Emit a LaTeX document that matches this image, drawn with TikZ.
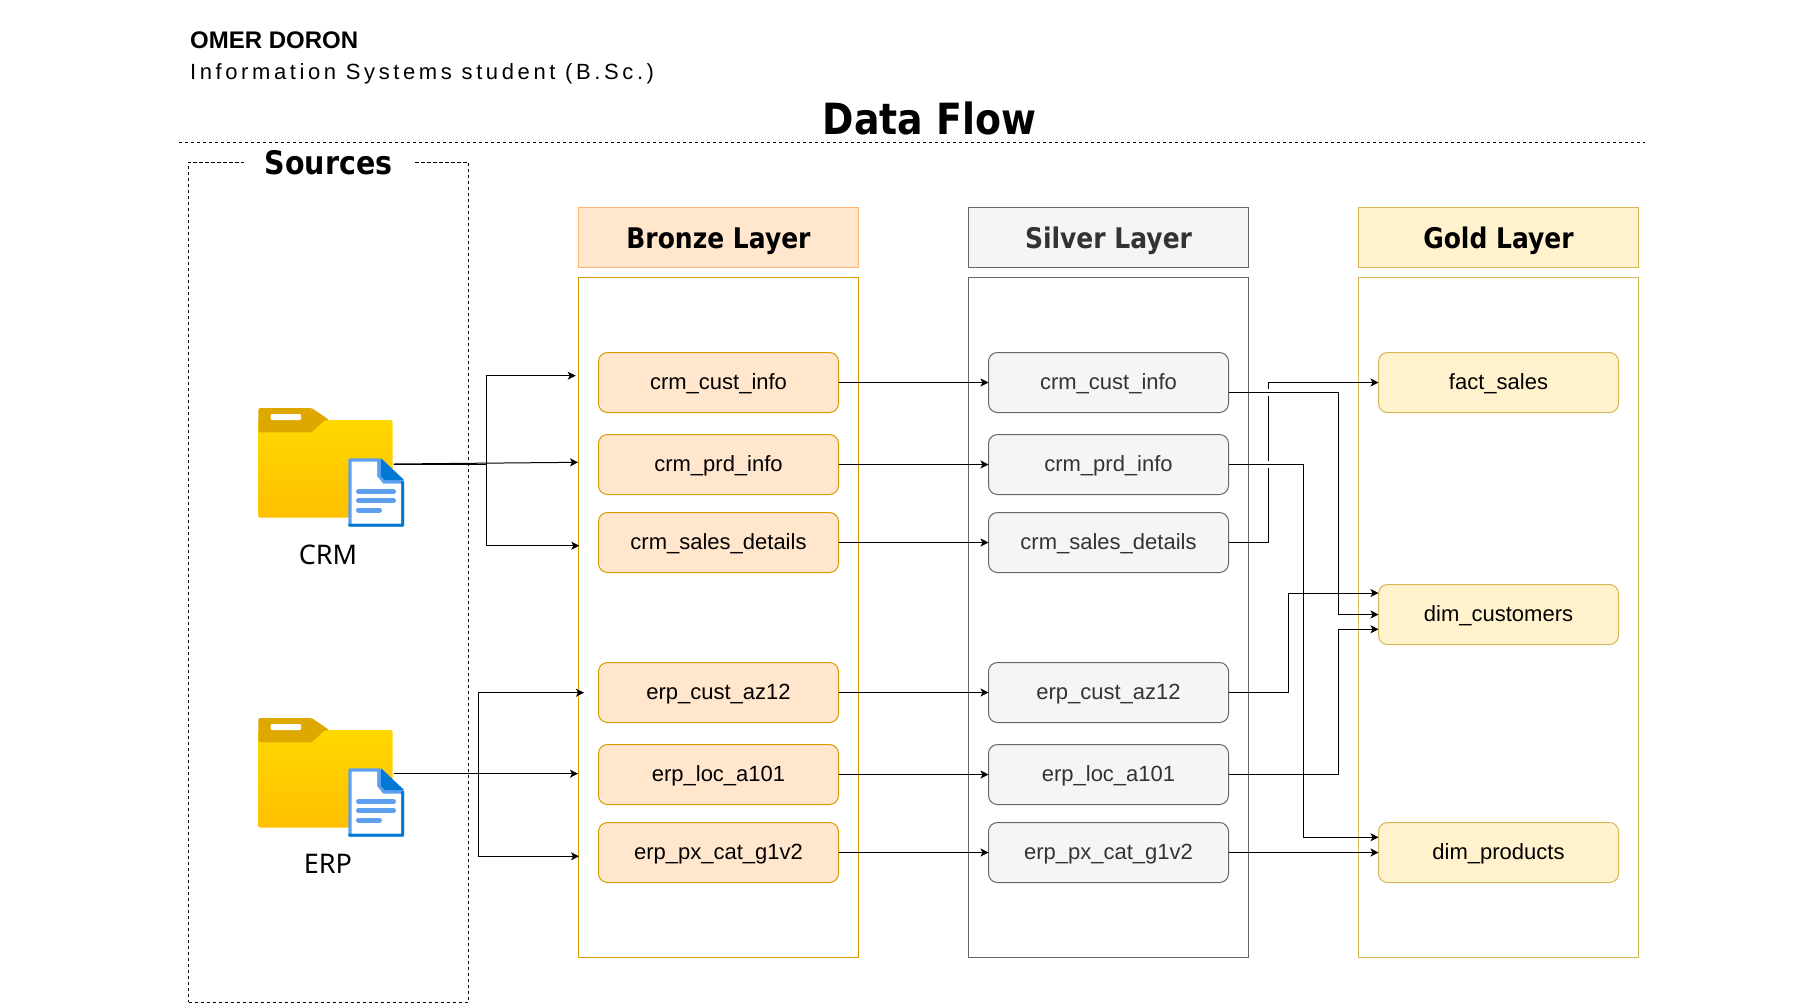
\documentclass[tikz,border=0pt]{standalone}
\usepackage{fontspec}
\setmainfont{Liberation Sans}
\newfontfamily\headfont{Noto Sans}
\newfontfamily\headbold[FakeStretch=0.88]{DejaVu Sans Bold}
\newfontfamily\spacedfont[LetterSpace=16.4]{Liberation Sans}
\usetikzlibrary{arrows.meta,calc}
\definecolor{bronzefill}{HTML}{FFE6CC}
\definecolor{bronzeline}{HTML}{D79B00}
\definecolor{bronzehead}{HTML}{FFB570}
\definecolor{silverfill}{HTML}{F5F5F5}
\definecolor{silverline}{HTML}{666666}
\definecolor{silvertext}{HTML}{333333}
\definecolor{goldfill}{HTML}{FFF2CC}
\definecolor{goldline}{HTML}{D6B656}
\definecolor{foldertab}{HTML}{DEA800}
\definecolor{foldertop}{HTML}{FFD700}
\definecolor{folderbot}{HTML}{FFC000}
\definecolor{docdark}{HTML}{0078D4}
\definecolor{doclight}{HTML}{5EA0EF}
\tikzset{
  flow/.style={draw=black,line width=0.5pt,-{Stealth[length=4pt,width=4pt,inset=1pt]}},
  dashline/.style={draw=black,line width=0.5pt,dash pattern=on 1.6pt off 1.4pt},
  body/.style={draw=#1,line width=0.5pt,minimum width=140pt,minimum height=340pt,inner sep=0pt,outer sep=0pt},
  layerhead/.style={minimum width=140pt,minimum height=30pt,inner sep=0pt,outer sep=0pt,line width=0.5pt,font=\headbold\fontsize{14.2}{16}\selectfont,text height=13.5pt,text depth=2.5pt},
  tablebox/.style={rounded corners=4.5pt,minimum width=120pt,minimum height=30pt,inner sep=0pt,outer sep=0pt,line width=0.5pt,font=\fontsize{11}{13}\selectfont,text height=9.1pt,text depth=2.3pt},
  bronzebox/.style={tablebox,fill=bronzefill,draw=bronzeline},
  silverbox/.style={tablebox,fill=silverfill,draw=silverline,text=silvertext},
  goldbox/.style={tablebox,fill=goldfill,draw=goldline},
  folderanchor/.style={minimum width=67.5pt,minimum height=55pt,inner sep=0pt,outer sep=0pt},
  srclabel/.style={font=\headfont\fontsize{13.5}{16}\selectfont,inner sep=0pt},
  folderpic/.pic={
    \shade[top color=foldertop,bottom color=folderbot,rounded corners=1pt] (258.3,420) -- (392.7,420) -- (392.7,517.7) -- (258.3,517.7) -- cycle;
    \fill[foldertab,rounded corners=0.8pt] (258.3,432.3) -- (258.3,408) -- (311.7,408) -- (329.3,420) -- (325,420) -- (311.7,432.3) -- cycle;
    \fill[white,rounded corners=0.6pt] (270.7,414) rectangle (301,420);
    \fill[doclight,rounded corners=0.8pt] (348.3,458.3) -- (381,458.3) -- (404,480) -- (404,526.7) -- (348.3,526.7) -- cycle;
    \fill[docdark,rounded corners=0.4pt] (404,481) -- (404,526.7) -- (348.3,526.7) -- (348.3,523.5) -- (401,523.5) -- (401,481) -- cycle;
    \fill[white] (351.5,461.5) -- (377,461.5) -- (377,476) -- (383,483.5) -- (401,483.5) -- (401,523.5) -- (351.5,523.5) -- cycle;
    \fill[docdark] (381,458.3) -- (404,480) -- (385,480) -- (381,476) -- cycle;
    \draw[doclight,line width=2.5pt,line cap=round] (358.5,491.7) -- (393.5,491.7) (358.5,500.7) -- (393.5,500.7) (358.5,510) -- (379.5,510);
  }
}
\begin{document}
\begin{tikzpicture}[x=0.5pt,y=-0.5pt]
\useasboundingbox (0,0) rectangle (1814,1003);
\fill[white] (0,0) rectangle (1814,1003);

% header texts
\node[anchor=west,inner sep=0pt,font=\bfseries\fontsize{12}{14}\selectfont] (author) at (189.7,40.5) {OMER DORON};
\node[anchor=west,inner sep=0pt,font=\spacedfont\fontsize{11}{13}\selectfont] (role) at (189.7,74.3) {Information Systems student (B.Sc.)};
\node[inner sep=0pt,font=\headbold\fontsize{21.5}{25}\selectfont] (title) at (929.5,118) {Data Flow};
\coordinate (ruleL) at (179,142.5);
\coordinate (ruleR) at (1645,142.5);
\draw[dashline] (ruleL) -- (ruleR);

% sources
\node[dashline,minimum width=140pt,minimum height=420pt,inner sep=0pt,outer sep=0pt] (sources) at (328.5,582) {};
\node[fill=white,minimum width=85pt,minimum height=18pt,inner sep=0pt,font=\headbold\fontsize{16.2}{18}\selectfont] (sourcesT) at (328.5,163) {Sources};

% layers
\node[layerhead,fill=bronzefill,draw=bronzehead] (bh) at (718.5,237.5) {Bronze Layer};
\node[layerhead,fill=silverfill,draw=silverline,text=silvertext] (sh) at (1108.5,237.5) {Silver Layer};
\node[layerhead,fill=goldfill,draw=goldline] (gh) at (1498.5,237.5) {Gold Layer};
\node[body=bronzeline] (bb) at (718.5,617.5) {};
\node[body=silverline] (sb) at (1108.5,617.5) {};
\node[body=goldline] (gb) at (1498.5,617.5) {};

% bronze
\node[bronzebox] (b1) at (718.5,382.5) {crm\_cust\_info};
\node[bronzebox] (b2) at (718.5,464.5) {crm\_prd\_info};
\node[bronzebox] (b3) at (718.5,542.5) {crm\_sales\_details};
\node[bronzebox] (b4) at (718.5,692.5) {erp\_cust\_az12};
\node[bronzebox] (b5) at (718.5,774.5) {erp\_loc\_a101};
\node[bronzebox] (b6) at (718.5,852.5) {erp\_px\_cat\_g1v2};
% silver
\node[silverbox] (s1) at (1108.5,382.5) {crm\_cust\_info};
\node[silverbox] (s2) at (1108.5,464.5) {crm\_prd\_info};
\node[silverbox] (s3) at (1108.5,542.5) {crm\_sales\_details};
\node[silverbox] (s4) at (1108.5,692.5) {erp\_cust\_az12};
\node[silverbox] (s5) at (1108.5,774.5) {erp\_loc\_a101};
\node[silverbox] (s6) at (1108.5,852.5) {erp\_px\_cat\_g1v2};
% gold
\node[goldbox] (g1) at (1498.5,382.5) {fact\_sales};
\node[goldbox] (g2) at (1498.5,614.5) {dim\_customers};
\node[goldbox] (g3) at (1498.5,852.5) {dim\_products};

% folders
\pic at (0,0) {folderpic};
\pic at (0,310) {folderpic};
\node[folderanchor] (crm) at (326,464) {};
\node[folderanchor] (erp) at (326,773.7) {};
\node[srclabel] (crmL) at (328,554.5) {CRM};
\node[srclabel] (erpL) at (328,864) {ERP};

% source connectors
\coordinate (ct) at (486,464);
\coordinate (ci1) at (575.7,375.7);
\coordinate (ci2) at (578,462.3);
\coordinate (ci3) at (579.3,545.7);
\draw[flow] (crm.east) -| (ct) |- (ci1);
\draw[flow] (crm.east) -- (ci2);
\draw[flow] (crm.east) -| (ct) |- (ci3);
\coordinate (et) at (478.7,773.7);
\coordinate (ei1) at (584,692.7);
\coordinate (ei2) at (578,773.7);
\coordinate (ei3) at (579,856.3);
\draw[flow] (erp.east) -| (et) |- (ei1);
\draw[flow] (erp.east) -- (ei2);
\draw[flow] (erp.east) -| (et) |- (ei3);

% bronze to silver
\foreach \i in {1,...,6} { \draw[flow] (b\i.east) -- (s\i.west); }

% silver to gold
\coordinate (t3) at (1268.3,460);
\draw[flow] (s3.east) -| (t3) |- (g1.west);
\fill[white] (1266,389) rectangle (1270.5,395.5);
\fill[white] (1266,461.3) rectangle (1270.5,467.7);
\coordinate (s1o) at (1228.5,392.5);
\coordinate (t1) at (1338.3,500);
\draw[flow] (s1o) -| (t1) |- (g2.west);
\coordinate (t2) at (1303.5,650);
\coordinate (g3t) at (1378.5,837.3);
\draw[flow] (s2.east) -| (t2) |- (g3t);
\coordinate (t4) at (1288.3,650);
\coordinate (g2t) at (1378.5,593);
\draw[flow] (s4.east) -| (t4) |- (g2t);
\coordinate (t5) at (1338.3,700);
\coordinate (g2b) at (1378.5,629.3);
\draw[flow] (s5.east) -| (t5) |- (g2b);
\draw[flow] (s6.east) -- (g3.west);
\end{tikzpicture}
\end{document}
